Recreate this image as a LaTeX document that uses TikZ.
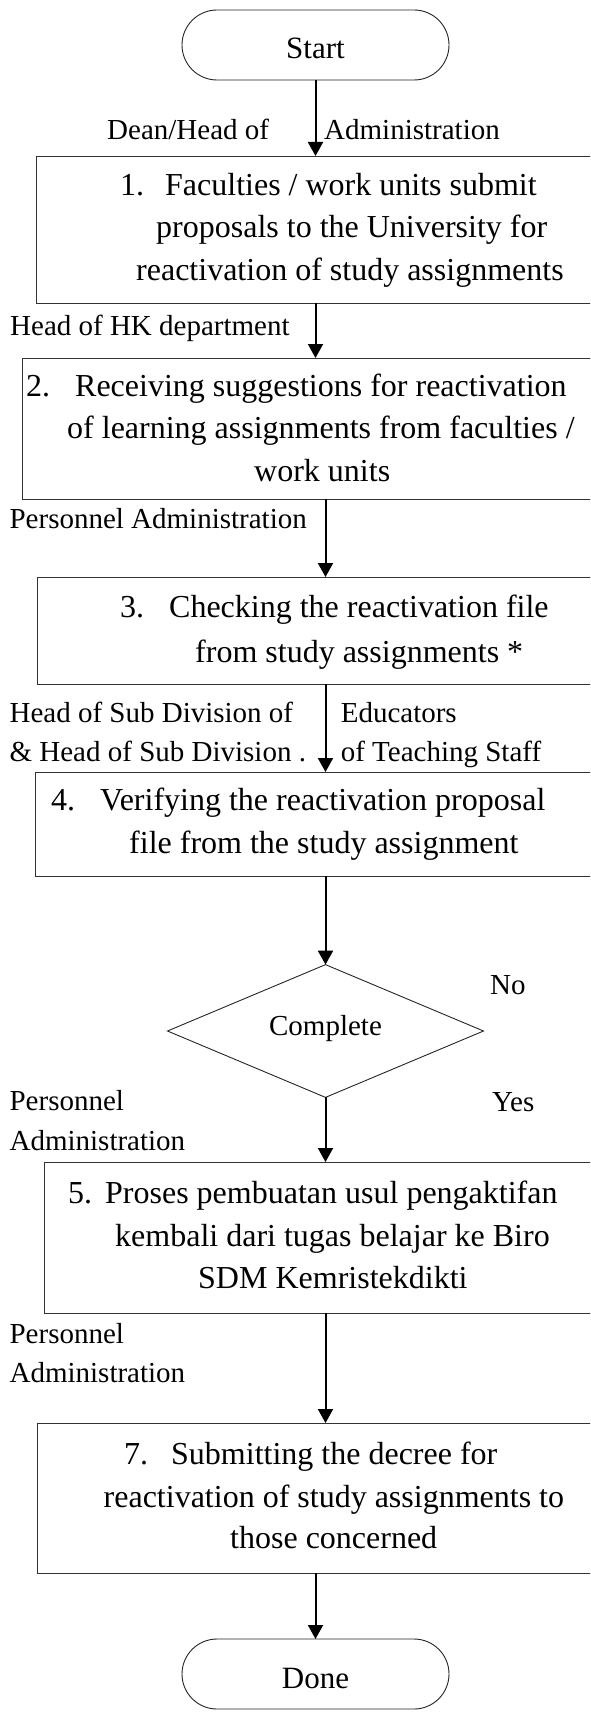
\documentclass[tikz,border=0pt]{standalone}
\usepackage{fontspec}
\setmainfont{Liberation Serif}
\usetikzlibrary{shapes.geometric,shapes.misc,arrows.meta}

\begin{document}
\begin{tikzpicture}[x=1pt,y=-1pt,
  box/.style={draw=black!80, line width=0.9pt, rectangle, inner sep=0pt, outer sep=0pt, anchor=north west},
  term/.style={draw=black!85, line width=0.9pt, rounded rectangle, minimum width=267pt, minimum height=70pt,
    inner sep=0pt, outer sep=0pt, text height=28pt, text depth=0pt, font=\fontsize{31}{36}\selectfont},
  dec/.style={draw=black!85, line width=0.9pt, diamond, minimum width=316pt, minimum height=125pt,
    inner sep=0pt, outer sep=0pt, text height=14pt, text depth=6pt, font=\fontsize{29}{34}\selectfont},
  ln/.style={anchor=base west, inner sep=0pt, font=\fontsize{32}{40}\selectfont},
  lab/.style={anchor=base west, inner sep=0pt, font=\fontsize{29}{36}\selectfont},
  flow/.style={line width=2pt, -{Triangle[width=15pt,length=14pt]}}
]
\clip (0,0) rectangle (590,1712);
\fill[white] (0,0) rectangle (590,1712);

% terminals, process boxes and decision
\node[term] (start) at (315.5,45) {Start};
\node[box, minimum width=614pt, minimum height=147pt] (b1) at (36,156) {};
\node[box, minimum width=627.4pt, minimum height=141pt] (b2) at (22.6,358) {};
\node[box, minimum width=612.4pt, minimum height=107pt] (b3) at (37.6,577) {};
\node[box, minimum width=614.3pt, minimum height=104pt] (b4) at (35.7,772) {};
\node[dec] (dec) at (325.5,1031) {Complete};
\node[box, minimum width=605.6pt, minimum height=151pt] (b5) at (44.4,1162) {};
\node[box, minimum width=612.4pt, minimum height=150pt] (b7) at (37.6,1423) {};
\node[term] (done) at (315.5,1674) {Done};

% box texts
\node[ln] (t1a) at (120,196) {\makebox[45pt][l]{1.}Faculties / work units submit};
\node[ln] (t1b) at (156,238) {proposals to the University for};
\node[ln] (t1c) at (136,280) {reactivation of study assignments};

\node[ln] (t2a) at (26,396) {\makebox[49pt][l]{2.}Receiving suggestions for reactivation};
\node[ln] (t2b) at (67,438) {of learning assignments from faculties /};
\node[ln] (t2c) at (254,481) {work units};

\node[ln] (t3a) at (120,617) {\makebox[49pt][l]{3.}Checking the reactivation file};
\node[ln] (t3b) at (195,662) {from study assignments *};

\node[ln] (t4a) at (51,810) {\makebox[49pt][l]{4.}Verifying the reactivation proposal};
\node[ln] (t4b) at (129,853) {file from the study assignment};

\node[ln] (t5a) at (68,1203) {\makebox[37pt][l]{5.}Proses pembuatan usul pengaktifan};
\node[ln] (t5b) at (115,1246) {kembali dari tugas belajar ke Biro};
\node[ln] (t5c) at (198,1288) {SDM Kemristekdikti};

\node[ln] (t7a) at (124,1464) {\makebox[47pt][l]{7.}Submitting the decree for};
\node[ln] (t7b) at (103.5,1507) {reactivation of study assignments to};
\node[ln] (t7c) at (230,1548) {those concerned};

% role labels beside the connectors
\node[lab] (l1a) at (107,140) {Dean/Head of};
\node[lab] (l1b) at (324,140) {Administration};
\node[lab] (l2) at (10,335) {Head of HK department};
\node[lab] (l3) at (9.4,528) {Personnel Administration};
\node[lab] (l4a) at (9.4,722) {Head of Sub Division of};
\node[lab] (l4b) at (9.4,761) {\& Head of Sub Division .};
\node[lab] (l4c) at (340.6,722) {Educators};
\node[lab] (l4d) at (340.6,761) {of Teaching Staff};
\node[lab] (lno) at (490,994) {No};
\node[lab] (lyes) at (492,1111) {Yes};
\node[lab] (l5a) at (9.4,1110) {Personnel};
\node[lab] (l5b) at (9.4,1150) {Administration};
\node[lab] (l6a) at (9.4,1343) {Personnel};
\node[lab] (l6b) at (9.4,1382) {Administration};

% connectors
\draw[flow] (start.south) -- (start.south |- b1.north);
\draw[flow] (b1.south -| start) -- (b2.north -| start);
\draw[flow] (b2.south -| dec) -- (b3.north -| dec);
\draw[flow] (b3.south -| dec) -- (b4.north -| dec);
\draw[flow] (b4.south -| dec) -- (dec.north);
\draw[flow] (dec.south) -- (b5.north -| dec);
\draw[flow] (b5.south -| dec) -- (b7.north -| dec);
\draw[flow] (b7.south -| done) -- (done.north);
\end{tikzpicture}
\end{document}
